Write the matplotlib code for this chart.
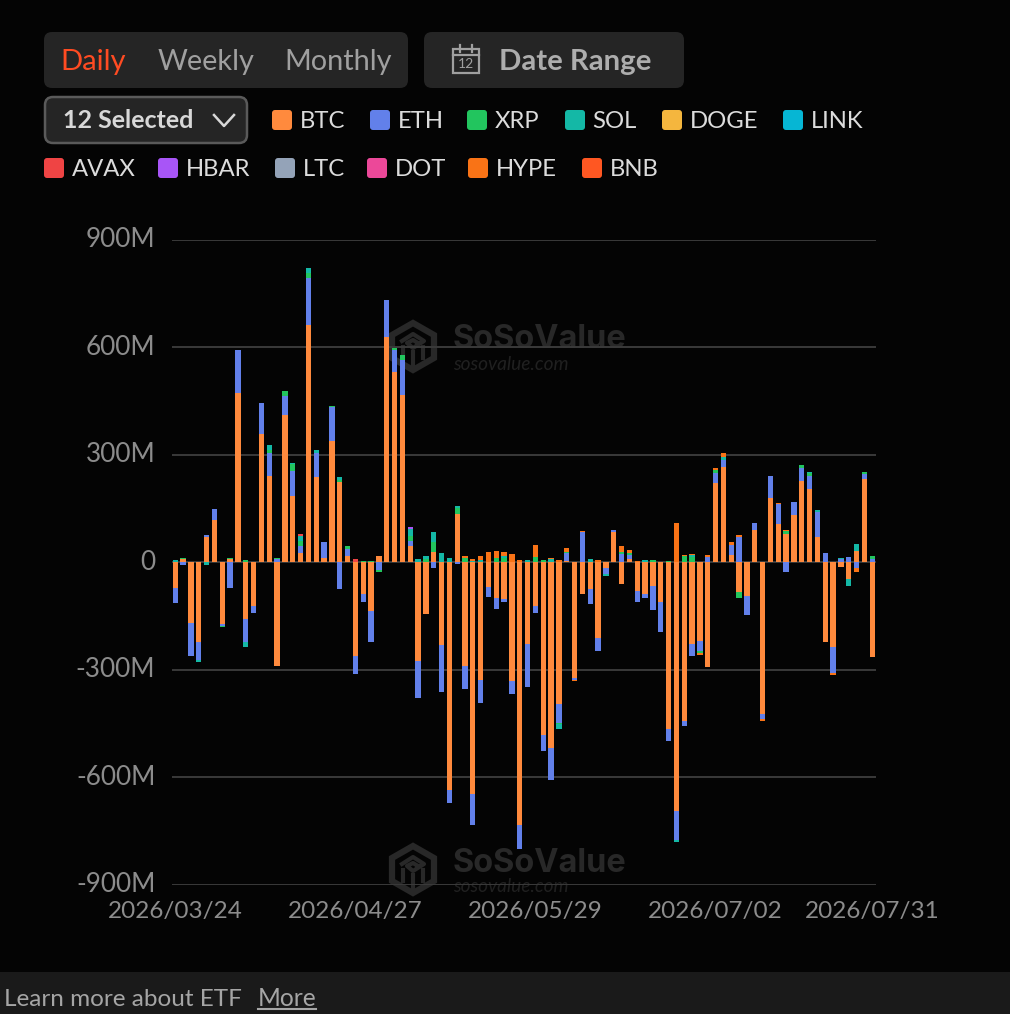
# stacked daily ETF flow bars, dark theme
import numpy as np
import matplotlib
matplotlib.use("Agg")
import matplotlib.pyplot as plt
from matplotlib.patches import FancyBboxPatch, Polygon, Rectangle
from matplotlib.transforms import ScaledTranslation

plt.rcParams['font.family'] = ['Lato', 'DejaVu Sans']

# series values in millions, one per trading day
BTC = [-73, 8, -170, -223, 69, 118, -172, 9, 471, -158, -122, 359, 241, -289, 411, 186, 26, 663, 239, 13, 337, 223,
       16, -261, -88, -137, 16, 630, 532, 467, 46, -277, -144, 28, -232, -635, 134, -291, -648, -330, -69, -99, -103,
       -333, -733, -228, -123, -483, -518, -397, 4, -323, -90, -75, -212, -17, 85, -62, 10, -81, -89, -66, -112, -466,
       -694, -443, -228, -219, -292, 222, 266, 20, -84, -94, 91, -423, 180, 108, 80, 132, 227, 203, 69, -224, -238,
       -13, -47, 32, 232, -266]
ETH = [-42, -8, -93, -49, 6, 31, -6, -71, 120, -65, -21, 85, 63, 10, 54, 68, 18, 129, 67, 43, 95, -74, 22, -50, -22,
       -87, -21, 101, 60, 98, 12, -103, 0, -15, -131, -36, -4, -64, -87, -62, -28, -33, -8, -34, -67, -121, -19, -45,
       -91, -52, 21, -5, 84, -41, -37, -16, 5, 24, 11, -30, -12, -67, -83, -32, -81, -13, -33, -29, 15, 28, 20, 29,
       71, -52, 18, -15, 60, 55, -27, 37, 37, 39, 72, 26, -72, 10, 15, -17, 15, 9]
XRP = [0, 3, 0, 0, 0, 0, -2, 2, 0, 5, 0, 0, 9, 2, 13, 20, 14, 14, 0, 0, 5, 6, 7, 0, 3, 3, -7, 0, 7, 13, 14, 0, 10,
       27, 0, 0, 16, 12, 0, 0, 0, 13, 11, 0, 0, 0, 15, 5, 0, -4, 3, 0, 0, 0, 0, 0, 0, 5, 6, 0, 0, 6, 0, 3, 0, 16, 15,
       -5, 0, 8, 0, 0, -15, 0, 0, 0, 0, 0, 7, 0, 7, 6, 0, 0, 0, 0, 0, 0, 6, 8]
SOL = [6, 0, 0, -7, -8, 0, -1, 0, 0, -15, 0, 0, 14, 1, 0, 3, 16, 14, 8, 0, 0, 9, 0, 0, 0, 0, 0, 0, 0, 0, 22, 8, 7,
       28, 25, 11, 7, 0, 4, 7, 0, 0, 5, 0, 0, 5, 0, 0, 8, -14, 0, 0, 0, 8, 0, -5, 0, 0, 0, 0, 6, 0, 0, 0, -6, 0, 5, 0,
       0, 0, 8, 0, 0, 0, 0, 0, 0, 0, 0, 0, 0, 5, 5, 0, 0, 1, -20, 20, 0, 0]
AVAX = [0] * 16 + [6] + [0] * 6 + [9] + [0] * 66
HBAR = [0] * 30 + [3] + [0] * 59
HYPE = [0, 0, 0, 0, 0, 0, 0, 0, 0, 0, 0, 0, 0, 0, 0, 0, 0, 0, 0, 0, 0, 0, 0, 0, 0, 0, 0, 0, 0, 0, 0, 0, 0, 0, 0, 0,
        0, 5, 5, 11, 28, 17, 12, 23, 5, 0, 32, 0, 4, 5, 12, -5, 4, 0, 5, 0, 0, 17, 8, 4, 0, 0, 0, 0, 109, 4, 4, -5, 4,
        5, 11, 6, 4, 0, 0, -5, 0, 2, 2, 0, 0, 0, 0, 0, -6, 0, 0, -9, 0, 0]
EMPTY = [0] * 90

series_names = ["BTC", "ETH", "XRP", "SOL", "DOGE", "LINK", "AVAX", "HBAR", "LTC", "DOT", "HYPE", "BNB"]
series_values = [BTC, ETH, XRP, SOL, EMPTY, EMPTY, AVAX, HBAR, EMPTY, EMPTY, HYPE, EMPTY]
series_colors = ["#FF8A3D", "#6280EA", "#22C55E", "#14B8A6", "#F5B63E", "#06B6D4",
                 "#EF4444", "#A855F7", "#94A3B8", "#EC4899", "#F97316", "#FF5722"]

date_ticks = [0, 23, 46, 69, 89]
date_labels = ["2026/03/24", "2026/04/27", "2026/05/29", "2026/07/02", "2026/07/31"]
y_ticks = [-900, -600, -300, 0, 300, 600, 900]
y_labels = ["-900M", "-600M", "-300M", "0", "300M", "600M", "900M"]

W, H = 1010, 1014
BG = "#040404"
MARK = "#282828"

fig = plt.figure(figsize=(W / 100, H / 100), dpi=100, facecolor=BG)

# page layer in pixel coordinates for the controls
ui = fig.add_axes([0, 0, 1, 1], zorder=3)
ui.set_xlim(0, W)
ui.set_ylim(H, 0)
ui.axis("off")

# chart
ax = fig.add_axes([172 / W, 1 - 884.6 / H, 704 / W, 644.8 / H], zorder=2)
ax.set_facecolor("none")

# watermarks sit behind the grid
bgl = fig.add_axes([0, 0, 1, 1], zorder=1)
bgl.set_xlim(0, W)
bgl.set_ylim(H, 0)
bgl.axis("off")
for cy in [346, 869]:
    hexagon = [(413, cy - 23), (434, cy - 11), (434, cy + 12), (413, cy + 24), (392, cy + 12), (392, cy - 11)]
    bgl.add_patch(Polygon(hexagon, closed=True, fill=False, ec=MARK, lw=4.5, joinstyle="miter"))
    # spiral on the top face and the inner corner of the cube
    bgl.plot([402, 413, 424, 413, 407, 413, 418], [cy - 5, cy - 12, cy - 5, cy + 2, cy - 3, cy - 6, cy - 3],
             color=MARK, lw=3)
    bgl.plot([413, 413], [cy + 6, cy + 20], color=MARK, lw=3)
    bgl.plot([403, 403], [cy + 1, cy + 12], color=MARK, lw=3)
    bgl.plot([423, 423], [cy + 1, cy + 12], color=MARK, lw=3)
    bgl.text(453, cy - 6, "SoSoValue", color=MARK, fontsize=23.4, fontweight="bold", family="Inter",
             va="center", ha="left")
    bgl.text(453, cy + 18, "sosovalue.com", color="#202020", fontsize=13.8, style="italic", va="center", ha="left")

x = np.arange(len(BTC))
pos = np.zeros(len(BTC))
neg = np.zeros(len(BTC))
for name, vals, col in zip(series_names, series_values, series_colors):
    vals = np.array(vals, dtype=float)
    base = np.where(vals >= 0, pos, neg)
    ax.bar(x, vals, bottom=base, width=0.68, color=col, linewidth=0, zorder=3, label=name)
    pos += np.clip(vals, 0, None)
    neg += np.clip(vals, None, 0)

ax.set_xlim(-0.42, 89.49)
ax.set_ylim(-900, 900)
ax.set_yticks(y_ticks, y_labels)
ax.set_xticks(date_ticks, date_labels)
ax.tick_params(axis="both", length=0, labelcolor="#8c8c8c", labelsize=17.5)
ax.tick_params(axis="y", pad=12, labelsize=18.8)
ax.tick_params(axis="x", pad=11.5)
ax.grid(True, axis="y", color="#3a3a3a", lw=1.4, zorder=1)
for s in ax.spines.values():
    s.set_visible(False)
# value labels sit a little above their lines
for lab in ax.get_yticklabels():
    lab.set_transform(lab.get_transform() + ScaledTranslation(0, 2.5 / 100, fig.dpi_scale_trans))

# top controls
def box(x0, y0, w, h, fc, ec="none", lw=0, r=8):
    ui.add_patch(FancyBboxPatch((x0 + r, y0 + r), w - 2 * r, h - 2 * r, boxstyle=f"round,pad={r}",
                                fc=fc, ec=ec, lw=lw))

box(44, 32, 364, 56, "#252525")
box(424, 32, 260, 56, "#252525")
box(45, 97, 202, 46, "#252525", ec="#5a5a5a", lw=1.8)

ui.text(60.5, 62, "Daily", color="#FF4B22", fontsize=21, va="center")
ui.text(157.5, 62, "Weekly", color="#A0A0A0", fontsize=20.8, va="center")
ui.text(284.5, 62, "Monthly", color="#A0A0A0", fontsize=20.8, va="center")
ui.text(499, 62, "Date Range", color="#ADADAD", fontsize=21.2, fontweight="bold", va="center")

# calendar icon
icon = "#A0A0A0"
ui.add_patch(Rectangle((453, 49), 26, 24, fill=False, ec=icon, lw=1.6))
ui.plot([453, 479], [55, 55], color=icon, lw=1.6)
ui.plot([460, 460], [45, 52], color=icon, lw=1.6)
ui.plot([472, 472], [45, 52], color=icon, lw=1.6)
ui.text(466, 64.5, "12", color=icon, fontsize=10, ha="center", va="center")

ui.text(63, 121, "12 Selected", color="#D8D8D8", fontsize=18, fontweight="bold", va="center")
ui.plot([214, 224, 234], [115, 126, 115], color="#D8D8D8", lw=1.8)

# legend chips are part of the page header
chip_x = [272, 370, 467, 565, 662, 783, 44, 158, 275, 367, 468, 582]
chip_y = [120, 120, 120, 120, 120, 120, 168, 168, 168, 168, 168, 168]
for name, col, cx, cy in zip(series_names, series_colors, chip_x, chip_y):
    box(cx, cy - 10, 20, 20, col, r=3)
    ui.text(cx + 27.5, cy + 1.5, name, color="#DCDCDC", fontsize=17.2, va="center")

# footer strip
ui.add_patch(Rectangle((0, 972), W, 42, fc="#1a1a1a", ec="none"))
ui.text(4, 999, "Learn more about ETF", color="#A5A5A5", fontsize=17.5, va="center")
ui.text(258, 999, "More", color="#A5A5A5", fontsize=17.7, va="center")
ui.plot([258, 316], [1009, 1009], color="#A5A5A5", lw=1.5)

fig.savefig("out.png", dpi=100, facecolor=BG)
